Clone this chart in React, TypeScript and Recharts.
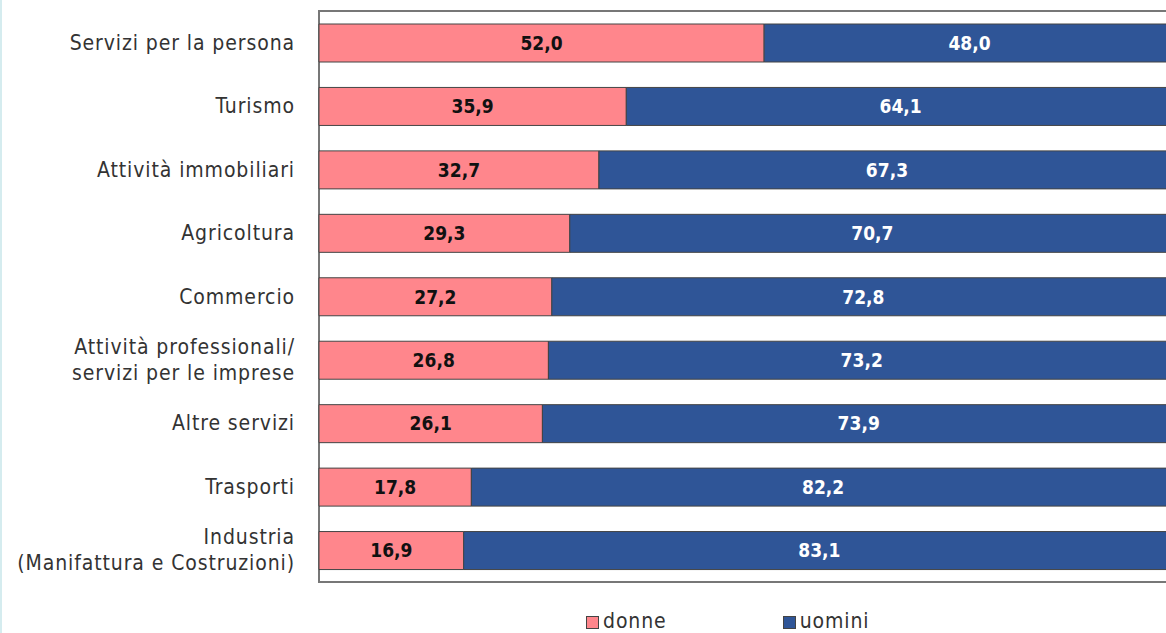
import { BarChart, Bar, XAxis, YAxis, LabelList, ReferenceArea } from 'recharts';

const categories = [
  'Servizi per la persona',
  'Turismo',
  'Attività immobiliari',
  'Agricoltura',
  'Commercio',
  'Attività professionali/\nservizi per le imprese',
  'Altre servizi',
  'Trasporti',
  'Industria\n(Manifattura e Costruzioni)',
];

const donne = [52.0, 35.9, 32.7, 29.3, 27.2, 26.8, 26.1, 17.8, 16.9];
const uomini = [48.0, 64.1, 67.3, 70.7, 72.8, 73.2, 73.9, 82.2, 83.1];

const data = categories.map((name, i) => ({ name, donne: donne[i], uomini: uomini[i] }));

const PINK = '#ff868c';
const BLUE = '#2f5597';
const FONT = "'DejaVu Sans Condensed', 'Roboto', sans-serif";

const fmt = (v: any) => Number(v).toFixed(1).replace('.', ',');

function CategoryTick(props: any) {
  const { x, y, payload } = props;
  const lines = String(payload.value).split('\n');
  const lh = 26;
  const start = -((lines.length - 1) * lh) / 2;
  const tx = x - 16;
  return (
    <text x={tx} y={y} textAnchor="end" fill="#333" fontSize={21} letterSpacing={0.9} fontFamily={FONT}>
      {lines.map((l, i) => (
        <tspan key={i} x={tx} dy={i === 0 ? start + 7 : lh}>
          {l}
        </tspan>
      ))}
    </text>
  );
}

function ChartLegend() {
  const items = [
    { label: 'donne', color: PINK },
    { label: 'uomini', color: BLUE },
  ];
  return (
    <div
      style={{
        position: 'absolute',
        top: 608,
        left: 584,
        display: 'flex',
        gap: 116,
        fontFamily: FONT,
        fontSize: 21,
        letterSpacing: 0.9,
        color: '#333',
        lineHeight: '26px',
      }}
    >
      {items.map((it) => (
        <div key={it.label} style={{ display: 'flex', alignItems: 'center' }}>
          <span
            style={{
              width: 11,
              height: 11,
              background: it.color,
              border: '1px solid #444',
              marginRight: 4,
              marginTop: 2,
              display: 'inline-block',
            }}
          />
          {it.label}
        </div>
      ))}
    </div>
  );
}

export default function App() {
  return (
    <div
      style={{
        position: 'absolute',
        top: 0,
        left: 0,
        width: 1166,
        height: 633,
        overflow: 'hidden',
        background: '#fff',
        borderLeft: '2px solid #d5ecef',
        boxSizing: 'border-box',
      }}
    >
      <div style={{ position: 'absolute', left: -2, top: 0 }}>
        <BarChart
          width={1180}
          height={633}
          data={data}
          layout="vertical"
          margin={{ top: 11, right: 5, bottom: 51, left: 0 }}
          barSize={38}
        >
          <XAxis type="number" domain={[0, 100]} hide />
          <YAxis
            type="category"
            dataKey="name"
            width={319}
            axisLine={false}
            tickLine={false}
            tick={<CategoryTick />}
            interval={0}
          />
          <ReferenceArea x1={0} x2={100} fill="none" stroke="#777" strokeWidth={2} />
          <Bar dataKey="donne" stackId="a" fill={PINK} stroke="#444" strokeWidth={1} isAnimationActive={false}>
            <LabelList
              dataKey="donne"
              position="center"
              formatter={fmt}
              fill="#111"
              fontSize={19}
              fontWeight="bold"
              fontFamily={FONT}
            />
          </Bar>
          <Bar dataKey="uomini" stackId="a" fill={BLUE} stroke="#444" strokeWidth={1} isAnimationActive={false}>
            <LabelList
              dataKey="uomini"
              position="center"
              formatter={fmt}
              fill="#fff"
              fontSize={19}
              fontWeight="bold"
              fontFamily={FONT}
            />
          </Bar>
        </BarChart>
      </div>
      <ChartLegend />
    </div>
  );
}
